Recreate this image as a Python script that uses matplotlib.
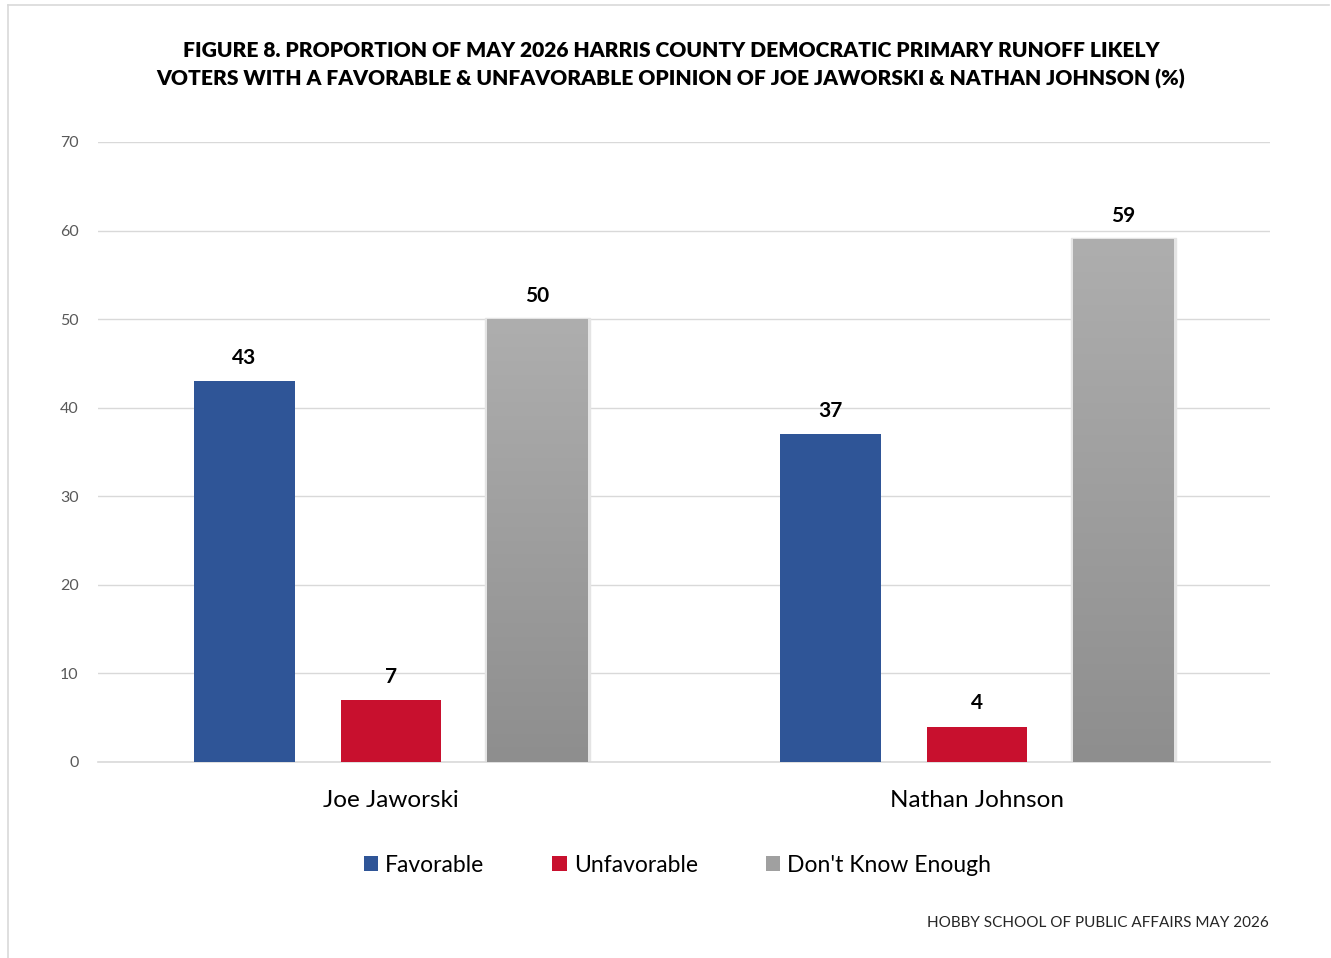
import numpy as np
import matplotlib.pyplot as plt
from matplotlib.patches import Rectangle, Patch
from matplotlib.lines import Line2D
from matplotlib.colors import LinearSegmentedColormap

plt.rcParams['font.family'] = ['Lato', 'DejaVu Sans']

candidates = ['Joe Jaworski', 'Nathan Johnson']
series = ['Favorable', 'Unfavorable', "Don't Know Enough"]
favorable = [43, 37]
unfavorable = [7, 4]
dont_know = [50, 59]

colors = ['#2F5597', '#C8102E', '#A0A0A0']

fig = plt.figure(figsize=(13.31, 9.58), dpi=100)
ax = fig.add_axes([0.0736, 0.2046, 0.8806, 0.6472])

x = np.arange(len(candidates))
w = 0.171
off = 0.25

b1 = ax.bar(x - off, favorable, w, color=colors[0], zorder=3)
b2 = ax.bar(x, unfavorable, w, color=colors[1], zorder=3)
b3 = ax.bar(x + off, dont_know, w, color='none', zorder=3)

# gradient fill for the grey bars
grad = np.linspace(0, 1, 256).reshape(-1, 1)
gcmap = LinearSegmentedColormap.from_list('g', ['#8E8E8E', '#AEAEAE'])
for rect in b3:
    x0, h = rect.get_x(), rect.get_height()
    # soft shadow
    ax.add_patch(Rectangle((x0 - 0.004, 0), w + 0.008, h + 0.15, color='#E4E4E4', zorder=2.5))
    ax.imshow(grad, extent=(x0, x0 + w, 0, h), origin='lower', cmap=gcmap,
              aspect='auto', zorder=3)

for bars, vals in [(b1, favorable), (b2, unfavorable), (b3, dont_know)]:
    for rect, v in zip(bars, vals):
        ax.text(rect.get_x() + w / 2, v + 1.5, str(v), ha='center', va='bottom',
                fontsize=15, fontweight='bold', color='black')

ax.set_xlim(-0.5, 1.5)
ax.set_ylim(0, 70)
ax.set_yticks(range(0, 71, 10))
ax.yaxis.grid(True, color='#D9D9D9', linewidth=1, zorder=0)
ax.set_axisbelow(True)
for s in ['top', 'right', 'left']:
    ax.spines[s].set_visible(False)
ax.spines['bottom'].set_color('#D9D9D9')
ax.spines['bottom'].set_linewidth(1.2)
ax.tick_params(axis='y', length=0, pad=14, labelsize=11.5, labelcolor='#595959')
ax.tick_params(axis='x', length=0, pad=20, labelsize=17.5, labelcolor='black')
ax.set_xticks(x)
ax.set_xticklabels(candidates)

fig.text(0.504, 0.932, 'FIGURE 8. PROPORTION OF MAY 2026 HARRIS COUNTY DEMOCRATIC PRIMARY RUNOFF LIKELY\n'
         'VOTERS WITH A FAVORABLE & UNFAVORABLE OPINION OF JOE JAWORSKI & NATHAN JOHNSON (%)',
         ha='center', va='center', fontsize=15.1, fontweight='heavy', linespacing=1.5)

handles = [Patch(facecolor=c, edgecolor='none') for c in colors]
fig.legend(handles, series, loc='center', bbox_to_anchor=(0.509, 0.097), ncol=3,
           frameon=False, fontsize=16.5, handlelength=0.65, handleheight=0.65,
           handletextpad=0.3, columnspacing=2.95)

fig.text(0.953, 0.0365, 'HOBBY SCHOOL OF PUBLIC AFFAIRS MAY 2026', ha='right', va='center',
         fontsize=11, color='#262626')

# outer border
fig.add_artist(Line2D([8 / 1331, 8 / 1331], [0, 1 - 5 / 958], color='#D9D9D9', lw=1.2))
fig.add_artist(Line2D([8 / 1331, 1329 / 1331], [1 - 5 / 958, 1 - 5 / 958], color='#D9D9D9', lw=1.2))

fig.savefig('out.png', dpi=100)
